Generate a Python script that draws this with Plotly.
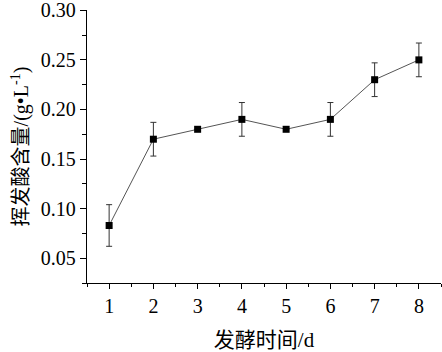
import plotly.graph_objects as go

days = [1, 2, 3, 4, 5, 6, 7, 8]
acid = [0.083, 0.170, 0.180, 0.190, 0.180, 0.190, 0.230, 0.250]
err = [0.021, 0.017, 0.0, 0.017, 0.0, 0.017, 0.017, 0.017]
x_ticks = [1, 2, 3, 4, 5, 6, 7, 8]
y_ticks = [0.05, 0.10, 0.15, 0.20, 0.25, 0.30]
y_labels = ["0.05", "0.10", "0.15", "0.20", "0.25", "0.30"]

FONT = "Liberation Serif"
CJK = "Liberation Serif, Noto Sans CJK SC"

fig = go.Figure()
fig.add_trace(go.Scatter(
    x=days, y=acid, mode="lines+markers",
    line=dict(color="#555555", width=1),
    marker=dict(symbol="square", size=7, color="black"),
    error_y=dict(type="data", array=err, visible=True, color="#333333", thickness=1, width=3),
    showlegend=False,
))

fig.update_layout(
    template="none",
    width=442, height=352,
    margin=dict(l=87, r=1, t=10, b=69),
    plot_bgcolor="white", paper_bgcolor="white",
    font=dict(family=FONT, size=20, color="black"),
)
fig.update_xaxes(
    range=[0.5, 8.5], tickvals=x_ticks, ticks="outside", ticklen=5, tickwidth=1.2,
    tickcolor="black", showline=True, linecolor="black", linewidth=1.3,
    showgrid=False, zeroline=False, ticklabeloverflow="allow",
    minor=dict(dtick=0.5, tick0=0.5, ticks="outside", ticklen=3, tickcolor="black", tickwidth=1, showgrid=False),
    title=dict(text="发酵时间/d", font=dict(size=21, family=CJK, color="black"), standoff=16),
    tickfont=dict(size=20, family=FONT, color="black"),
)
fig.update_yaxes(
    range=[0.025, 0.3003], tickvals=y_ticks, ticktext=y_labels, ticks="outside", ticklen=6,
    tickwidth=1.2, tickcolor="black", showline=True, linecolor="black", linewidth=1.3,
    showgrid=False, zeroline=False, ticklabeloverflow="allow",
    minor=dict(dtick=0.025, tick0=0.025, ticks="outside", ticklen=4, tickcolor="black", tickwidth=1, showgrid=False),
    title=dict(text="挥发酸含量/(g•L<sup>-1</sup>)", font=dict(size=20, family=CJK, color="black"), standoff=6),
    tickfont=dict(size=20, family=FONT, color="black"),
)

fig.write_html("out.html")
